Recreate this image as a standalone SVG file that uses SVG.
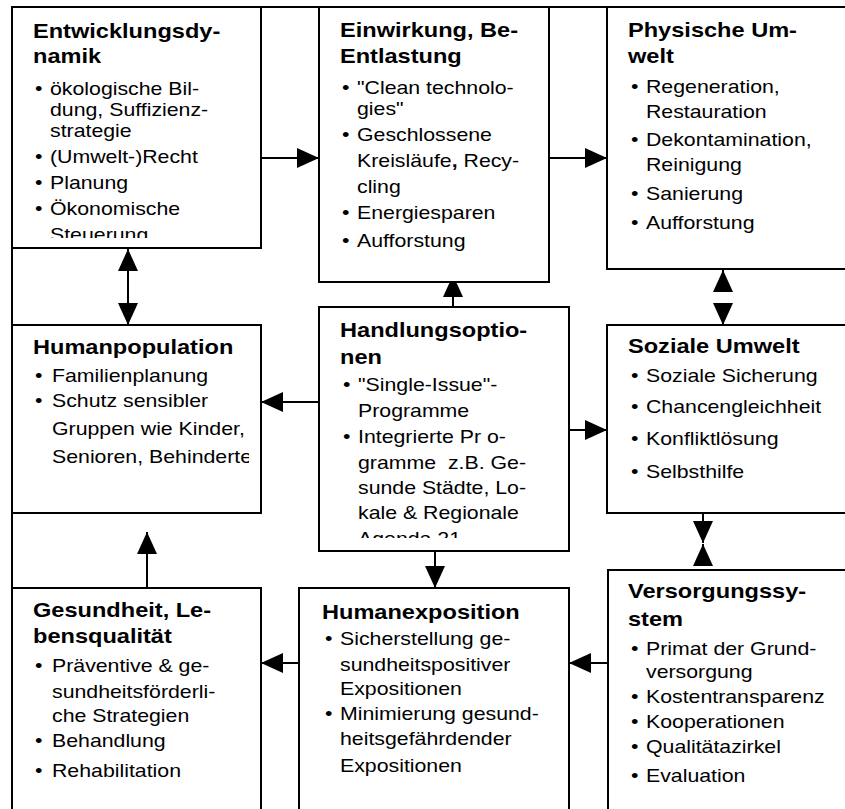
<svg xmlns="http://www.w3.org/2000/svg" width="845" height="809" viewBox="0 0 845 809">
<style>
.box{fill:#fff;stroke:#000;stroke-width:2}
.frame{fill:none;stroke:#000;stroke-width:2}
text{font-family:"Liberation Sans",Arial,sans-serif;fill:#000;white-space:pre}
.h{font-size:20.6px;font-weight:bold}
.b{font-size:18.6px}
.c{stroke:#000;stroke-width:2;fill:none}
</style>
<defs>
<marker id="ah" viewBox="0 0 22 20" markerWidth="22" markerHeight="20" refX="22" refY="10" orient="auto-start-reverse" markerUnits="userSpaceOnUse"><path d="M0,0 L22,10 L0,20 Z" fill="#000"/></marker>
<clipPath id="c1"><rect x="0" y="0" width="300" height="238"/></clipPath>
<clipPath id="c4"><rect x="0" y="300" width="249" height="220"/></clipPath>
<clipPath id="c5"><rect x="300" y="300" width="300" height="238"/></clipPath>
</defs>
<rect width="845" height="809" fill="#fff"/>
<path class="frame" d="M12,809 V7 H845"/>

<g id="connectors">
<line class="c" x1="261" y1="158" x2="319" y2="158" marker-end="url(#ah)"/>
<line class="c" x1="549" y1="158" x2="607" y2="158" marker-end="url(#ah)"/>
<line class="c" x1="128" y1="249" x2="128" y2="325" marker-start="url(#ah)" marker-end="url(#ah)"/>
<line class="c" x1="453" y1="313" x2="453" y2="275" marker-end="url(#ah)"/>
<line class="c" x1="319" y1="402" x2="261" y2="402" marker-end="url(#ah)"/>
<line class="c" x1="569" y1="430" x2="607" y2="430" marker-end="url(#ah)"/>
<line class="c" x1="435" y1="551" x2="435" y2="588" marker-end="url(#ah)"/>
<line class="c" x1="723" y1="292" x2="723" y2="270" marker-end="url(#ah)"/>
<line class="c" x1="723" y1="303" x2="723" y2="325" marker-end="url(#ah)"/>
<line class="c" x1="703" y1="505" x2="703" y2="543" marker-end="url(#ah)"/>
<line class="c" x1="703" y1="565" x2="703" y2="544" marker-end="url(#ah)"/>
<line class="c" x1="147" y1="588" x2="147" y2="532" marker-end="url(#ah)"/>
<line class="c" x1="299" y1="663" x2="261" y2="663" marker-end="url(#ah)"/>
<line class="c" x1="608" y1="663" x2="569" y2="663" marker-end="url(#ah)"/>
</g>

<g id="entwicklungsdynamik">
<rect class="box" x="12" y="7" width="249" height="241"/>
<g clip-path="url(#c1)">
<text class="h" transform="matrix(1.145 0 0 1 33 38)">Entwicklungsdy-</text>
<text class="h" transform="matrix(1.145 0 0 1 33 63)">namik</text>
<text class="b" transform="matrix(1.145 0 0 1 35 95)">•</text>
<text class="b" transform="matrix(1.145 0 0 1 50 95)">ökologische Bil-</text>
<text class="b" transform="matrix(1.145 0 0 1 50 116)">dung, Suffizienz-</text>
<text class="b" transform="matrix(1.145 0 0 1 50 137)">strategie</text>
<text class="b" transform="matrix(1.145 0 0 1 35 163)">•</text>
<text class="b" transform="matrix(1.145 0 0 1 50 163)">(Umwelt-)Recht</text>
<text class="b" transform="matrix(1.145 0 0 1 35 189)">•</text>
<text class="b" transform="matrix(1.145 0 0 1 50 189)">Planung</text>
<text class="b" transform="matrix(1.145 0 0 1 35 215)">•</text>
<text class="b" transform="matrix(1.145 0 0 1 50 215)">Ökonomische</text>
<text class="b" transform="matrix(1.145 0 0 1 50 241)">Steuerung</text>
</g>
</g>

<g id="einwirkung">
<rect class="box" x="319" y="7" width="230" height="275"/>
<text class="h" transform="matrix(1.145 0 0 1 340 37)">Einwirkung, Be-</text>
<text class="h" transform="matrix(1.145 0 0 1 340 63)">Entlastung</text>
<text class="b" transform="matrix(1.145 0 0 1 342 94)">•</text>
<text class="b" transform="matrix(1.145 0 0 1 357 94)">"Clean technolo-</text>
<text class="b" transform="matrix(1.145 0 0 1 357 115)">gies"</text>
<text class="b" transform="matrix(1.145 0 0 1 342 141)">•</text>
<text class="b" transform="matrix(1.145 0 0 1 357 141)">Geschlossene</text>
<text class="b" transform="matrix(1.145 0 0 1 357 167)">Kreisläufe<tspan font-weight="bold">,</tspan> Recy-</text>
<text class="b" transform="matrix(1.145 0 0 1 357 193)">cling</text>
<text class="b" transform="matrix(1.145 0 0 1 342 219)">•</text>
<text class="b" transform="matrix(1.145 0 0 1 357 219)">Energiesparen</text>
<text class="b" transform="matrix(1.145 0 0 1 342 247)">•</text>
<text class="b" transform="matrix(1.145 0 0 1 357 247)">Aufforstung</text>
</g>

<g id="physische-umwelt">
<rect class="box" x="607" y="7" width="260" height="262"/>
<text class="h" transform="matrix(1.145 0 0 1 628 37)">Physische Um-</text>
<text class="h" transform="matrix(1.145 0 0 1 628 63)">welt</text>
<text class="b" transform="matrix(1.145 0 0 1 631 93)">•</text>
<text class="b" transform="matrix(1.145 0 0 1 646 93)">Regeneration,</text>
<text class="b" transform="matrix(1.145 0 0 1 646 118)">Restauration</text>
<text class="b" transform="matrix(1.145 0 0 1 631 146)">•</text>
<text class="b" transform="matrix(1.145 0 0 1 646 146)">Dekontamination,</text>
<text class="b" transform="matrix(1.145 0 0 1 646 171)">Reinigung</text>
<text class="b" transform="matrix(1.145 0 0 1 631 200)">•</text>
<text class="b" transform="matrix(1.145 0 0 1 646 200)">Sanierung</text>
<text class="b" transform="matrix(1.145 0 0 1 631 229)">•</text>
<text class="b" transform="matrix(1.145 0 0 1 646 229)">Aufforstung</text>
</g>

<g id="humanpopulation">
<rect class="box" x="12" y="325" width="249" height="188"/>
<g clip-path="url(#c4)">
<text class="h" transform="matrix(1.145 0 0 1 33 354)">Humanpopulation</text>
<text class="b" transform="matrix(1.145 0 0 1 35 382)">•</text>
<text class="b" transform="matrix(1.145 0 0 1 52 382)">Familienplanung</text>
<text class="b" transform="matrix(1.145 0 0 1 35 407)">•</text>
<text class="b" transform="matrix(1.145 0 0 1 52 407)">Schutz sensibler</text>
<text class="b" transform="matrix(1.145 0 0 1 52 435)">Gruppen wie Kinder,</text>
<text class="b" transform="matrix(1.145 0 0 1 52 463)">Senioren, Behinderte</text>
</g>
</g>

<g id="handlungsoptionen">
<rect class="box" x="319" y="307" width="250" height="244"/>
<g clip-path="url(#c5)">
<text class="h" transform="matrix(1.145 0 0 1 340 337)">Handlungsoptio-</text>
<text class="h" transform="matrix(1.145 0 0 1 340 364)">nen</text>
<text class="b" transform="matrix(1.145 0 0 1 343 391)">•</text>
<text class="b" transform="matrix(1.145 0 0 1 358 391)">"Single-Issue"-</text>
<text class="b" transform="matrix(1.145 0 0 1 358 417)">Programme</text>
<text class="b" transform="matrix(1.145 0 0 1 343 443)">•</text>
<text class="b" transform="matrix(1.145 0 0 1 358 443)">Integrierte Pr o-</text>
<text class="b" transform="matrix(1.145 0 0 1 358 469)">gramme  z.B. Ge-</text>
<text class="b" transform="matrix(1.145 0 0 1 358 494)">sunde Städte, Lo-</text>
<text class="b" transform="matrix(1.145 0 0 1 358 519)">kale &amp; Regionale</text>
<text class="b" transform="matrix(1.145 0 0 1 358 545)">Agenda 21</text>
</g>
</g>

<g id="soziale-umwelt">
<rect class="box" x="607" y="325" width="260" height="188"/>
<text class="h" transform="matrix(1.145 0 0 1 628 353)">Soziale Umwelt</text>
<text class="b" transform="matrix(1.145 0 0 1 631 382)">•</text>
<text class="b" transform="matrix(1.145 0 0 1 646 382)">Soziale Sicherung</text>
<text class="b" transform="matrix(1.145 0 0 1 631 413)">•</text>
<text class="b" transform="matrix(1.145 0 0 1 646 413)">Chancengleichheit</text>
<text class="b" transform="matrix(1.145 0 0 1 631 445)">•</text>
<text class="b" transform="matrix(1.145 0 0 1 646 445)">Konfliktlösung</text>
<text class="b" transform="matrix(1.145 0 0 1 631 478)">•</text>
<text class="b" transform="matrix(1.145 0 0 1 646 478)">Selbsthilfe</text>
</g>

<g id="gesundheit">
<rect class="box" x="12" y="588" width="249" height="260"/>
<text class="h" transform="matrix(1.145 0 0 1 33 617)">Gesundheit, Le-</text>
<text class="h" transform="matrix(1.145 0 0 1 33 643)">bensqualität</text>
<text class="b" transform="matrix(1.145 0 0 1 35 672)">•</text>
<text class="b" transform="matrix(1.145 0 0 1 52 672)">Präventive &amp; ge-</text>
<text class="b" transform="matrix(1.145 0 0 1 52 698)">sundheitsförderli-</text>
<text class="b" transform="matrix(1.145 0 0 1 52 722)">che Strategien</text>
<text class="b" transform="matrix(1.145 0 0 1 35 747)">•</text>
<text class="b" transform="matrix(1.145 0 0 1 52 747)">Behandlung</text>
<text class="b" transform="matrix(1.145 0 0 1 35 777)">•</text>
<text class="b" transform="matrix(1.145 0 0 1 52 777)">Rehabilitation</text>
</g>

<g id="humanexposition">
<rect class="box" x="299" y="588" width="270" height="260"/>
<text class="h" transform="matrix(1.145 0 0 1 322 619)">Humanexposition</text>
<text class="b" transform="matrix(1.145 0 0 1 325 645)">•</text>
<text class="b" transform="matrix(1.145 0 0 1 340 645)">Sicherstellung ge-</text>
<text class="b" transform="matrix(1.145 0 0 1 340 671)">sundheitspositiver</text>
<text class="b" transform="matrix(1.145 0 0 1 340 695)">Expositionen</text>
<text class="b" transform="matrix(1.145 0 0 1 325 720)">•</text>
<text class="b" transform="matrix(1.145 0 0 1 340 720)">Minimierung gesund-</text>
<text class="b" transform="matrix(1.145 0 0 1 340 745)">heitsgefährdender</text>
<text class="b" transform="matrix(1.145 0 0 1 340 772)">Expositionen</text>
</g>

<g id="versorgungssystem">
<rect class="box" x="608" y="570" width="260" height="280"/>
<text class="h" transform="matrix(1.145 0 0 1 628 598)">Versorgungssy-</text>
<text class="h" transform="matrix(1.145 0 0 1 628 626)">stem</text>
<text class="b" transform="matrix(1.145 0 0 1 631 655)">•</text>
<text class="b" transform="matrix(1.145 0 0 1 646 655)">Primat der Grund-</text>
<text class="b" transform="matrix(1.145 0 0 1 646 678)">versorgung</text>
<text class="b" transform="matrix(1.145 0 0 1 631 703)">•</text>
<text class="b" transform="matrix(1.145 0 0 1 646 703)">Kostentransparenz</text>
<text class="b" transform="matrix(1.145 0 0 1 631 728)">•</text>
<text class="b" transform="matrix(1.145 0 0 1 646 728)">Kooperationen</text>
<text class="b" transform="matrix(1.145 0 0 1 631 753)">•</text>
<text class="b" transform="matrix(1.145 0 0 1 646 753)">Qualitätazirkel</text>
<text class="b" transform="matrix(1.145 0 0 1 631 782)">•</text>
<text class="b" transform="matrix(1.145 0 0 1 646 782)">Evaluation</text>
</g>
</svg>
